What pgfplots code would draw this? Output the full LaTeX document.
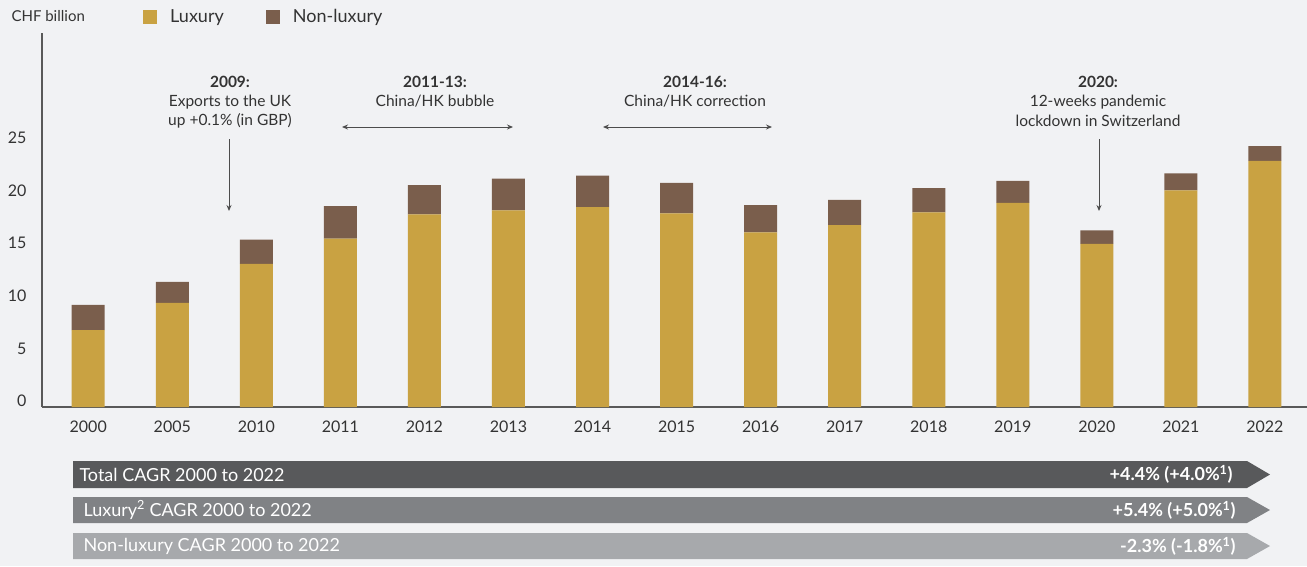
\documentclass[border=0pt]{standalone}
\usepackage{pgfplots}
\pgfplotsset{compat=1.18}
\usepackage{fontspec}
\setmainfont{Lato}
\usetikzlibrary{arrows.meta}
\definecolor{bg}{HTML}{F1F2F4}
\definecolor{lux}{HTML}{C9A242}
\definecolor{nonlux}{HTML}{7A5E4C}
\definecolor{txt}{HTML}{333333}
\definecolor{b1}{HTML}{58595B}
\definecolor{b2}{HTML}{808285}
\definecolor{b3}{HTML}{A7A9AC}
\begin{document}
\begin{tikzpicture}[x=1pt,y=1pt]
\fill[bg] (0,0) rectangle (1307,-566);
\useasboundingbox (0,0) rectangle (1307,-566);
\begin{axis}[
  at={(42pt,-407pt)}, anchor=south west, scale only axis,
  width=1265pt, height=374pt,
  xmin=-0.55, xmax=14.5, ymin=0, ymax=35.55,
  ybar stacked, bar width=33pt,
  axis lines=left, axis line style={-, draw=black!65, line width=1.2pt},
  major tick length=0pt,
  ytick={0,5,10,15,20,25},
  xtick={0,...,14},
  xticklabels={2000,2005,2010,2011,2012,2013,2014,2015,2016,2017,2018,2019,2020,2021,2022},
  ticklabel style={font=\fontsize{16}{19}\selectfont, text=txt},
  yticklabel style={xshift=-12pt, yshift=6pt},
  xticklabel style={yshift=-10pt},
  /pgf/number format/assume math mode=true,
  legend columns=2,
  legend style={draw=none, fill=none, at={(0.0775,1.075)}, anchor=north west,
    font=\fontsize{18}{21}\selectfont, text=txt,
    /tikz/every even column/.append style={column sep=40pt}},
  legend image code/.code={\fill[#1] (0pt,-7pt) rectangle (14pt,7pt); \path (25pt,0pt);},
]
\addplot[fill=lux, draw=none] coordinates {
(0,7.3) (1,9.9) (2,13.6) (3,16.0) (4,18.3) (5,18.7) (6,19.0) (7,18.4)
(8,16.6) (9,17.3) (10,18.5) (11,19.4) (12,15.5) (13,20.6) (14,23.4)};
\addlegendentry{Luxury}
\addplot[fill=nonlux, draw=none] coordinates {
(0,2.4) (1,2.0) (2,2.3) (3,3.1) (4,2.8) (5,3.0) (6,3.0) (7,2.9)
(8,2.6) (9,2.4) (10,2.3) (11,2.1) (12,1.3) (13,1.6) (14,1.4)};
\addlegendentry{Non-luxury}
\end{axis}
% unit label
\node[anchor=west, text=txt, font=\fontsize{15}{18}\selectfont] at (8,-16) {CHF billion};
% annotations
\begin{scope}[font=\fontsize{15.5}{18}\selectfont, text=txt]
\node[font=\fontsize{15.5}{18}\selectfont\bfseries] at (230,-82) {2009:};
\node at (230,-102) {Exports to the UK};
\node at (230,-121) {up +0.1\% (in GBP)};
\node[font=\fontsize{15.5}{18}\selectfont\bfseries] at (435,-82) {2011-13:};
\node at (435,-101) {China/HK bubble};
\node[font=\fontsize{15.5}{18}\selectfont\bfseries] at (695,-82) {2014-16:};
\node at (695,-101) {China/HK correction};
\node[font=\fontsize{15.5}{18}\selectfont\bfseries] at (1098,-82) {2020:};
\node at (1098,-102) {12-weeks pandemic};
\node at (1098,-121) {lockdown in Switzerland};
\end{scope}
\begin{scope}[draw=black!70, line width=0.9pt, >={Stealth[length=6pt,width=5pt]}]
\draw[->] (229,-139) -- (229,-211);
\draw[->] (1099,-139) -- (1099,-211);
\draw[<->] (342,-127) -- (513,-127);
\draw[<->] (603,-127) -- (772,-127);
\end{scope}
% banners
\fill[b1] (73,-461) -- (1247,-461) -- (1270,-474.5) -- (1247,-488) -- (73,-488) -- cycle;
\fill[b2] (73,-497) -- (1247,-497) -- (1270,-510) -- (1247,-523) -- (73,-523) -- cycle;
\fill[b3] (73,-533) -- (1247,-533) -- (1270,-546) -- (1247,-559) -- (73,-559) -- cycle;
\begin{scope}[font=\fontsize{18}{21}\selectfont, text=white]
\node[anchor=west] at (76,-474.5) {Total CAGR 2000 to 2022};
\node[anchor=west] at (80,-510) {Luxury\textsuperscript{2} CAGR 2000 to 2022};
\node[anchor=west] at (80,-546) {Non-luxury CAGR 2000 to 2022};
\node[anchor=east, font=\fontsize{18}{21}\selectfont\bfseries] at (1236,-474.5) {+4.4\% (+4.0\%\textsuperscript{1})};
\node[anchor=east, font=\fontsize{18}{21}\selectfont\bfseries] at (1239,-510) {+5.4\% (+5.0\%\textsuperscript{1})};
\node[anchor=east, font=\fontsize{18}{21}\selectfont\bfseries] at (1239,-546) {-2.3\% (-1.8\%\textsuperscript{1})};
\end{scope}
\end{tikzpicture}
\end{document}
